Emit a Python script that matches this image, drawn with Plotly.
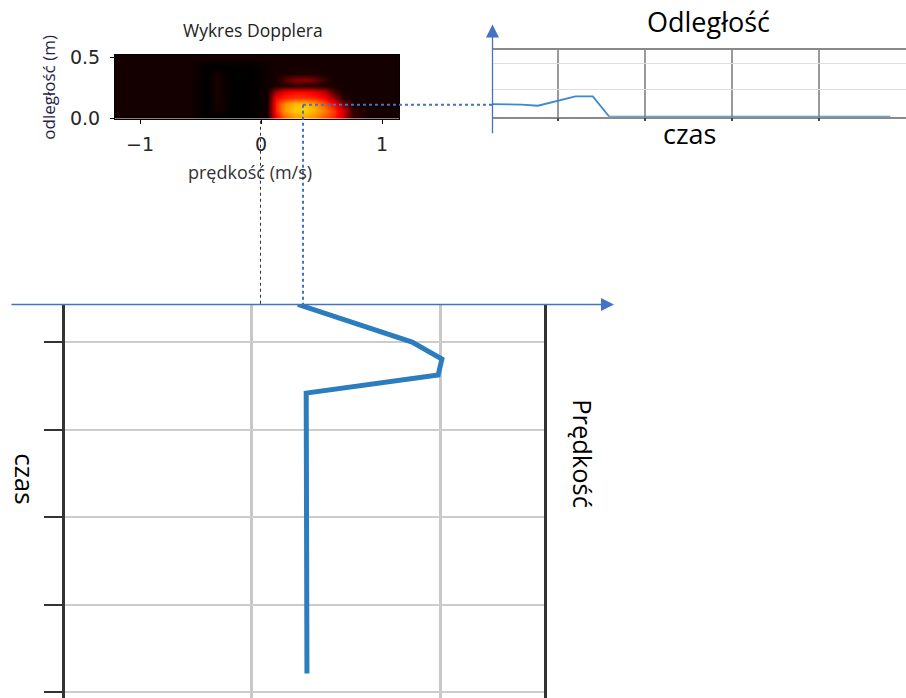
import plotly.graph_objects as go

W, H = 906, 710
# the captured picture shows the page as  y_shown = 8.4 + 0.972 * y_page ;
# positions below are given in reference pixels and converted back here
SY, OY = 0.972, 8.4
def fx(px): return px / W
def fy(py): return 1 - ((py - OY) / SY) / H

# ---------------- data ----------------
# Doppler map (velocity m/s vs distance m), intensity
vel = [-1.15, -0.9, -0.6, -0.45, -0.36, -0.25, -0.1, 0.05, 0.12, 0.2, 0.28,
       0.36, 0.44, 0.52, 0.6, 0.68, 0.76, 0.9, 1.1]
dist = [0.02, 0.07, 0.12, 0.17, 0.22, 0.27, 0.32, 0.37, 0.42, 0.5]
intensity = [
    [0.03, 0.03, 0.03, 0, 0.00, 0, 0, 0.02, 0.36, 0.52, 0.60, 0.62, 0.58, 0.50, 0.42, 0.28, 0.08, 0.03, 0.03],
    [0.03, 0.03, 0.03, 0, 0.03, 0, 0, 0.02, 0.42, 0.60, 0.67, 0.68, 0.64, 0.56, 0.45, 0.30, 0.07, 0.03, 0.03],
    [0.03, 0.03, 0.03, 0, 0.035, 0, 0, 0.02, 0.42, 0.58, 0.65, 0.65, 0.60, 0.50, 0.36, 0.18, 0.04, 0.03, 0.03],
    [0.03, 0.03, 0.03, 0, 0.035, 0, 0, 0.02, 0.36, 0.42, 0.44, 0.44, 0.42, 0.36, 0.22, 0.05, 0.03, 0.03, 0.03],
    [0.03, 0.03, 0.03, 0, 0.035, 0, 0, 0.02, 0.24, 0.34, 0.37, 0.37, 0.34, 0.28, 0.10, 0.03, 0.03, 0.03, 0.03],
    [0.03, 0.03, 0.03, 0, 0.035, 0, 0, 0.02, 0.03, 0.05, 0.06, 0.06, 0.05, 0.04, 0.03, 0.03, 0.03, 0.03, 0.03],
    [0.03, 0.03, 0.03, 0, 0.035, 0, 0, 0.02, 0.03, 0.12, 0.19, 0.20, 0.17, 0.08, 0.03, 0.03, 0.03, 0.03, 0.03],
    [0.03, 0.03, 0.03, 0, 0.03, 0, 0, 0.02, 0.03, 0.03, 0.04, 0.04, 0.04, 0.03, 0.03, 0.03, 0.03, 0.03, 0.03],
    [0.03, 0.03, 0.03, 0, 0.00, 0, 0, 0.02, 0.03, 0.03, 0.03, 0.03, 0.03, 0.03, 0.03, 0.03, 0.03, 0.03, 0.03],
    [0.03, 0.03, 0.03, 0.03, 0.03, 0.03, 0.03, 0.03, 0.03, 0.03, 0.03, 0.03, 0.03, 0.03, 0.03, 0.03, 0.03, 0.03, 0.03],
]
doppler_xticks = [-1, 0, 1]
doppler_xticktext = ["\u22121", "0", "1"]
doppler_yticks = [0, 0.5]
doppler_yticktext = ["0.0", "0.5"]

# Distance over time (top right)
time_dist = [2.4, 5.8, 7.7, 12.0, 14.0, 15.9, 48.2]
distance = [0.47, 0.45, 0.41, 0.76, 0.76, 0.0, 0.0]

# Velocity over time (bottom, time running downwards)
time_vel = [5.71, 10.0, 11.94, 13.77, 15.83, 47.83]
velocity = [0.124, 0.426, 0.505, 0.495, 0.146, 0.148]

hot = [[0, "rgb(0,0,0)"], [0.365, "rgb(255,0,0)"],
       [0.746, "rgb(255,255,0)"], [1, "rgb(255,255,255)"]]

fig = go.Figure()

fig.add_trace(go.Heatmap(x=vel, y=dist, z=intensity, colorscale=hot, zmin=0, zmax=1,
                         zsmooth="best", showscale=False, xaxis="x", yaxis="y",
                         hoverinfo="skip"))

fig.add_trace(go.Scatter(x=time_dist, y=distance, mode="lines",
                         line=dict(color="#3b8ad0", width=1.8),
                         xaxis="x2", yaxis="y2", hoverinfo="skip"))

fig.add_trace(go.Scatter(x=velocity, y=time_vel, mode="lines",
                         line=dict(color="#2b7dbd", width=5),
                         xaxis="x3", yaxis="y3", hoverinfo="skip"))

# bottom panel: time axis range so that t=10 sits at ref y 342 and t=50 at 692
bot_top = 305
bot_bottom = OY + SY * H          # where the bottom of the figure shows up
t_per_px = 40 / (692 - 342)
t_top = 10 + (bot_top - 342) * t_per_px
t_bot = 10 + (bot_bottom - 342) * t_per_px

dark = "#262626"
fig.update_layout(
    width=W, height=H, autosize=False, margin=dict(l=0, r=0, t=0, b=0, pad=0),
    paper_bgcolor="white", plot_bgcolor="white", showlegend=False,
    # Doppler
    xaxis=dict(domain=[fx(115), fx(399)], range=[-1.207, 1.14],
               tickvals=doppler_xticks, ticktext=doppler_xticktext,
               ticks="outside", ticklen=4, tickcolor="black", showline=True,
               mirror=True, linecolor="black", linewidth=1, showgrid=False,
               zeroline=False, ticklabelstandoff=4,
               tickfont=dict(family="DejaVu Sans", size=19, color=dark)),
    yaxis=dict(domain=[fy(119), fy(55)], range=[0, 0.525],
               tickvals=doppler_yticks, ticktext=doppler_yticktext,
               ticks="outside", ticklen=4, tickcolor="black", showline=True,
               mirror=True, linecolor="black", linewidth=1, showgrid=False,
               zeroline=False, ticklabelstandoff=6,
               tickfont=dict(family="DejaVu Sans", size=19, color=dark)),
    # Distance vs time
    xaxis2=dict(domain=[fx(492), 1], range=[2.414, 50], anchor="y2",
                tickvals=[10, 20, 30, 40], showticklabels=False,
                ticks="outside", ticklen=3, tickcolor="#444", tickwidth=1.5,
                showgrid=True, gridcolor="#9a9a9a", gridwidth=2,
                showline=True, mirror=True, linecolor="#8a8a8a", linewidth=1.5,
                zeroline=False),
    yaxis2=dict(domain=[fy(117), fy(50)], range=[0, 2.5], anchor="x2",
                tickvals=[1, 2], showticklabels=False, ticks="",
                showgrid=True, gridcolor="#dedede", gridwidth=1,
                showline=False, zeroline=False),
    # Velocity vs time
    xaxis3=dict(domain=[fx(65), fx(544)], range=[-0.492, 0.775], anchor="y3",
                tickvals=[0, 0.5], showticklabels=False, ticks="",
                showgrid=True, gridcolor="#c8c8c8", gridwidth=3,
                showline=False, zeroline=False),
    yaxis3=dict(domain=[0, fy(bot_top)], range=[t_bot, t_top], anchor="x3",
                tickvals=[10, 20, 30, 40, 50], showticklabels=False,
                ticks="outside", ticklen=18, tickwidth=2, tickcolor="#333",
                showgrid=True, gridcolor="#cccccc", gridwidth=2,
                showline=True, mirror=True, linecolor="#333", linewidth=3,
                zeroline=False),
)

blue = "#4472C4"
shapes = [
    dict(type="line", xref="paper", yref="paper", x0=fx(303), y0=fy(105), x1=fx(492), y1=fy(105),
         line=dict(color=blue, width=2, dash="dot")),
    dict(type="line", xref="paper", yref="paper", x0=fx(303), y0=fy(105), x1=fx(303), y1=fy(304),
         line=dict(color=blue, width=2, dash="dot")),
    dict(type="line", xref="paper", yref="paper", x0=fx(260.5), y0=fy(121), x1=fx(260.5), y1=fy(304),
         line=dict(color="#333", width=1, dash="dot")),
]
fig.update_layout(shapes=shapes)

txt = "Open Sans"
anns = [
    # arrows (tip position, tail offset in pixels)
    dict(x=fx(492.5), y=fy(25), ax=0, ay=(132 - 25) / SY, axref="pixel", ayref="pixel",
         text="", showarrow=True, arrowhead=2, arrowsize=2, arrowwidth=1.3,
         arrowcolor=blue),
    dict(x=fx(614), y=fy(304.5), ax=-604, ay=0, axref="pixel", ayref="pixel",
         text="", showarrow=True, arrowhead=2, arrowsize=2, arrowwidth=1.3,
         arrowcolor=blue),
    # texts
    dict(x=fx(253), y=fy(30), text="Wykres Dopplera", font=dict(family=txt, size=17.5, color="#222")),
    dict(x=fx(49), y=fy(88), text="odległość (m)", textangle=-90,
         font=dict(family=txt, size=17, color="#23234a")),
    dict(x=fx(250), y=fy(172), text="prędkość (m/s)", font=dict(family=txt, size=18, color="#333")),
    dict(x=fx(708), y=fy(22), text="Odległość", font=dict(family=txt, size=27, color="black")),
    dict(x=fx(689), y=fy(134), text="czas", font=dict(family=txt, size=27, color="black")),
    dict(x=fx(25), y=fy(478), text="czas", textangle=90, font=dict(family=txt, size=26, color="black")),
    dict(x=fx(583), y=fy(453), text="Prędkość", textangle=90, font=dict(family=txt, size=25.5, color="black")),
]
for a in anns:
    a.setdefault("xref", "paper")
    a.setdefault("yref", "paper")
    a.setdefault("showarrow", False)
    a.setdefault("xanchor", "center")
    a.setdefault("yanchor", "middle")
fig.update_layout(annotations=anns)

fig.write_html("out.html",
               config={"displayModeBar": False, "responsive": False},
               post_script="document.body.style.margin='0';document.body.style.overflow='hidden';")
